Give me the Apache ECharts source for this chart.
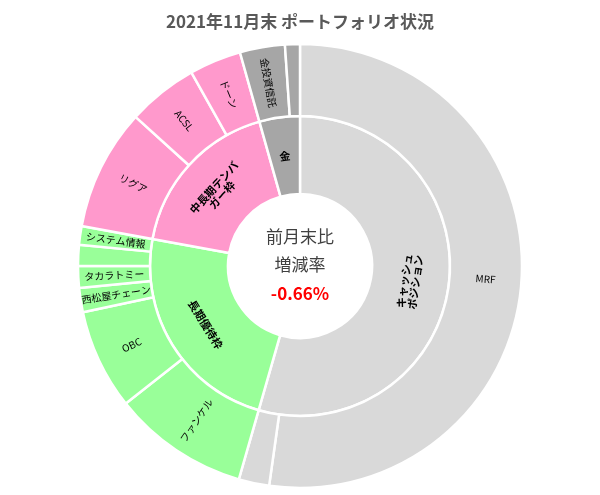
<!DOCTYPE html>
<html><head><meta charset="utf-8">
<script src="https://cdn.jsdelivr.net/npm/echarts@6/dist/echarts.min.js"></script>
<style>html,body{margin:0;padding:0;background:#fff}#c{width:600px;height:495px}</style>
</head><body><div id="c"></div>
<script>
const groups = ['キャッシュポジション', '長期優待枠', '中長期テンバガー枠', '金'];
const groupLabels = ['キャッシュ\nポジション', '長期優待枠', '中長期テンバ\nガー枠', '金'];
const groupColors = ['#d9d9d9', '#99ff99', '#ff99cc', '#a6a6a6'];
const holdingNames = [
  ['MRF', ''],
  ['ファンケル', 'OBC', '西松屋チェーン', 'タカラトミー', '', 'システム情報'],
  ['リグア', 'ACSL', 'ドーン'],
  ['金投資信託', '']
];
const holdingValues = [
  [188, 8],
  [35.7, 26.3, 6.3, 5.7, 5.5, 4.9],
  [31.8, 18.5, 13.6],
  [11.8, 3.9]
];
const data = groups.map((g, i) => ({
  name: groupLabels[i],
  itemStyle: { color: groupColors[i] },
  label: { fontWeight: 'bold' },
  children: holdingNames[i].map((n, j) => ({
    name: n, value: holdingValues[i][j], itemStyle: { color: groupColors[i] }
  }))
}));
const chart = echarts.init(document.getElementById('c'));
chart.setOption({
  title: { text: '2021年11月末 ポートフォリオ状況', left: 'center', top: 8,
    textStyle: { fontSize: 17, fontWeight: 'bold', color: '#595959', fontFamily: 'Noto Sans CJK JP' } },
  graphic: [
    { type: 'text', left: 'center', top: 228, style: { text: '前月末比', fontSize: 17, fill: '#404040', fontFamily: 'Noto Sans CJK JP' } },
    { type: 'text', left: 'center', top: 256, style: { text: '増減率', fontSize: 17, fill: '#404040', fontFamily: 'Noto Sans CJK JP' } },
    { type: 'text', left: 'center', top: 285, style: { text: '-0.66%', fontSize: 17, fontWeight: 'bold', fill: '#ff0000', fontFamily: 'Noto Sans CJK JP' } }
  ],
  series: [{
    type: 'sunburst', center: [300, 266], radius: [72, 222], sort: null,
    nodeClick: false, emphasis: { disabled: true },
    itemStyle: { borderColor: '#fff', borderWidth: 2.5 },
    label: { fontSize: 10, color: '#000', fontFamily: 'Noto Sans CJK JP' },
    levels: [{}, { r0: 72, r: 150, label: { rotate: 'tangential', fontSize: 11 } },
             { r0: 150, r: 222, label: { rotate: 'radial' } }],
    data: data
  }]
});
</script></body></html>
